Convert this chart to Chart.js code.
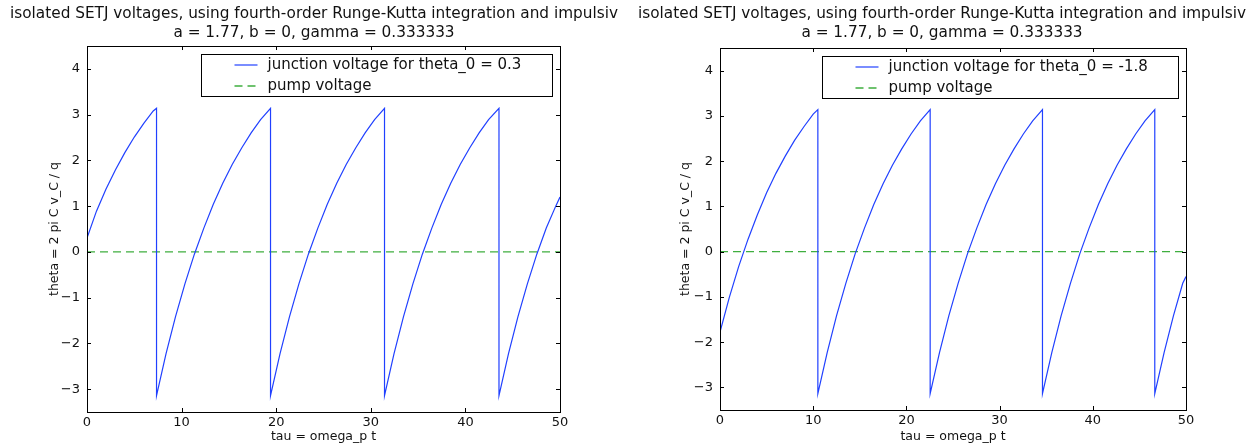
<!DOCTYPE html>
<html>
<head>
<meta charset="utf-8">
<script src="https://cdn.jsdelivr.net/npm/chart.js@4.4.1/dist/chart.umd.min.js"></script>
<style>
  body { margin: 0; background: #fff; }
  #wrap { display: flex; width: 1256px; height: 444px; }
  canvas { display: block; }
</style>
</head>
<body>
<div id="wrap">
  <canvas id="left" width="628" height="444"></canvas>
  <canvas id="right" width="628" height="444"></canvas>
</div>
<script>
// values
const titleLines = [
  'isolated SETJ voltages, using fourth-order Runge-Kutta integration and impulsiv',
  'a = 1.77, b = 0, gamma = 0.333333'
];
const xTicks = [0, 10, 20, 30, 40, 50];
const yTicks = [-3, -2, -1, 0, 1, 2, 3, 4];

// left panel, theta_0 = 0.3
const leftTau = [0, 1, 2, 3, 4, 5, 6, 7, 7.35,
  7.35, 8.35, 9.35, 10.35, 11.35, 12.35, 13.35, 14.35, 15.35, 16.35, 17.35, 18.35, 19.4,
  19.4, 20.4, 21.4, 22.4, 23.4, 24.4, 25.4, 26.4, 27.4, 28.4, 29.4, 30.4, 31.45,
  31.45, 32.45, 33.45, 34.45, 35.45, 36.45, 37.45, 38.45, 39.45, 40.45, 41.45, 42.45, 43.55,
  43.55, 44.55, 45.55, 46.55, 47.55, 48.55, 49.55, 50];
const leftTheta = [0.3, 0.89, 1.37, 1.79, 2.17, 2.51, 2.81, 3.08, 3.14,
  -3.14, -2.23, -1.42, -0.70, -0.05, 0.52, 1.04, 1.50, 1.91, 2.27, 2.60, 2.89, 3.14,
  -3.14, -2.23, -1.42, -0.70, -0.05, 0.52, 1.04, 1.50, 1.91, 2.27, 2.60, 2.89, 3.14,
  -3.14, -2.23, -1.42, -0.70, -0.05, 0.52, 1.04, 1.50, 1.91, 2.27, 2.60, 2.89, 3.14,
  -3.14, -2.23, -1.42, -0.70, -0.05, 0.52, 1.0, 1.2];

// right panel, theta_0 = -1.8
const rightTau = [0, 1, 2, 3, 4, 5, 6, 7, 8, 9, 10, 10.5,
  10.5, 11.5, 12.5, 13.5, 14.5, 15.5, 16.5, 17.5, 18.5, 19.5, 20.5, 21.5, 22.55,
  22.55, 23.55, 24.55, 25.55, 26.55, 27.55, 28.55, 29.55, 30.55, 31.55, 32.55, 33.55, 34.6,
  34.6, 35.6, 36.6, 37.6, 38.6, 39.6, 40.6, 41.6, 42.6, 43.6, 44.6, 45.6, 46.65,
  46.65, 47.65, 48.65, 49.65, 50];
const rightTheta = [-1.78, -1.01, -0.33, 0.27, 0.81, 1.30, 1.73, 2.11, 2.46, 2.76, 3.04, 3.14,
  -3.14, -2.23, -1.42, -0.70, -0.05, 0.52, 1.04, 1.50, 1.91, 2.27, 2.60, 2.89, 3.14,
  -3.14, -2.23, -1.42, -0.70, -0.05, 0.52, 1.04, 1.50, 1.91, 2.27, 2.60, 2.89, 3.14,
  -3.14, -2.23, -1.42, -0.70, -0.05, 0.52, 1.04, 1.50, 1.91, 2.27, 2.60, 2.89, 3.14,
  -3.14, -2.23, -1.42, -0.70, -0.55];

const pumpTau = [0, 50];
const pumpTheta = [0, 0];

const FONT = 'DejaVu Sans';
Chart.defaults.font.family = FONT;
Chart.defaults.color = '#111';

const toPoints = (xs, ys) => xs.map((x, i) => ({ x: x, y: ys[i] }));

// matplotlib-like frame: box, inward ticks on all sides, boxed legend in the top right
const framePlugin = {
  id: 'frame',
  afterDraw(chart) {
    const ctx = chart.ctx;
    const a = chart.chartArea;
    const xs = chart.scales.x, ys = chart.scales.y;
    ctx.save();
    ctx.strokeStyle = '#000';
    ctx.lineWidth = 1;
    ctx.strokeRect(Math.round(a.left) + 0.5, Math.round(a.top) + 0.5,
      Math.round(a.right - a.left), Math.round(a.bottom - a.top));
    ctx.beginPath();
    xTicks.forEach(v => {
      const p = Math.round(xs.getPixelForValue(v)) + 0.5;
      ctx.moveTo(p, a.bottom); ctx.lineTo(p, a.bottom - 4);
      ctx.moveTo(p, a.top); ctx.lineTo(p, a.top + 4);
    });
    yTicks.forEach(v => {
      const p = Math.round(ys.getPixelForValue(v)) + 0.5;
      ctx.moveTo(a.left, p); ctx.lineTo(a.left + 4, p);
      ctx.moveTo(a.right, p); ctx.lineTo(a.right - 4, p);
    });
    ctx.stroke();

    // legend
    ctx.font = '15px "' + FONT + '"';
    const sets = chart.data.datasets;
    const tw = Math.max(...sets.map(d => ctx.measureText(d.label).width));
    const bw = Math.round(66 + tw + 31), bh = 42;
    const bx = Math.round(a.right - 8 - bw) + 0.5, by = Math.round(a.top + 8) + 0.5;
    ctx.fillStyle = '#fff';
    ctx.fillRect(bx, by, bw, bh);
    ctx.strokeStyle = '#000';
    ctx.strokeRect(bx, by, bw, bh);
    sets.forEach((d, i) => {
      const yy = by + 10.5 + i * 21;
      ctx.beginPath();
      ctx.strokeStyle = d.borderColor;
      ctx.lineWidth = d.borderWidth;
      ctx.setLineDash(d.borderDash || []);
      ctx.moveTo(bx + 33, yy); ctx.lineTo(bx + 56, yy);
      ctx.stroke();
      ctx.setLineDash([]);
      ctx.fillStyle = '#111';
      ctx.textBaseline = 'middle';
      ctx.fillText(d.label, bx + 66, yy);
    });
    ctx.restore();
  }
};

function makeChart(id, tau, theta, label, box) {
  return new Chart(document.getElementById(id), {
    type: 'line',
    data: {
      datasets: [{
        label: label,
        data: toPoints(tau, theta),
        borderColor: '#2040ff',
        borderWidth: 1.2,
        pointRadius: 0,
        tension: 0
      }, {
        label: 'pump voltage',
        data: toPoints(pumpTau, pumpTheta),
        borderColor: '#3fae3f',
        borderWidth: 1.3,
        borderDash: [8, 5],
        pointRadius: 0
      }]
    },
    options: {
      responsive: false,
      animation: false,
      devicePixelRatio: 1,
      layout: { padding: 0 },
      plugins: {
        legend: { display: false },
        tooltip: { enabled: false },
        title: {
          display: true,
          text: titleLines,
          color: '#111',
          font: { size: 15.3, weight: 'normal', lineHeight: 1.2 },
          padding: { top: 5, bottom: box.top - 41.7 }
        }
      },
      scales: {
        x: {
          type: 'linear',
          min: 0, max: 50,
          afterBuildTicks: s => { s.ticks = xTicks.map(v => ({ value: v })); },
          afterFit: s => { s.height = box.bottom; },
          grid: { display: false, drawTicks: false },
          border: { display: false },
          ticks: { padding: 3, font: { size: 13 }, color: '#111' },
          title: { display: true, text: 'tau = omega_p t', font: { size: 12.5 }, color: '#111',
                   padding: { top: box.bottom - 20, bottom: 0 } }
        },
        y: {
          type: 'linear',
          min: -3.5, max: 4.5,
          afterBuildTicks: s => { s.ticks = yTicks.map(v => ({ value: v })); },
          afterFit: s => { s.width = box.left; },
          grid: { display: false, drawTicks: false },
          border: { display: false },
          ticks: { padding: 7, font: { size: 13 }, color: '#111',
                   callback: v => String(v).replace('-', '\u2212') },
          title: { display: true, text: 'theta = 2 pi C v_C / q', font: { size: 12.5 }, color: '#111',
                   padding: { top: box.ylab - 7.5, bottom: 0 } }
        },
        // empty right-hand axis, only keeps the white margin so the title centres on the canvas
        yr: {
          type: 'linear',
          position: 'right',
          min: -3.5, max: 4.5,
          afterFit: s => { s.width = box.right; },
          grid: { display: false, drawTicks: false },
          border: { display: false },
          ticks: { display: false }
        }
      }
    },
    plugins: [framePlugin]
  });
}

makeChart('left', leftTau, leftTheta, 'junction voltage for theta_0 = 0.3',
  { left: 87, right: 68, top: 46, bottom: 32, ylab: 55 });
makeChart('right', rightTau, rightTheta, 'junction voltage for theta_0 = -1.8',
  { left: 92, right: 70, top: 48, bottom: 34, ylab: 58 });
</script>
</body>
</html>
